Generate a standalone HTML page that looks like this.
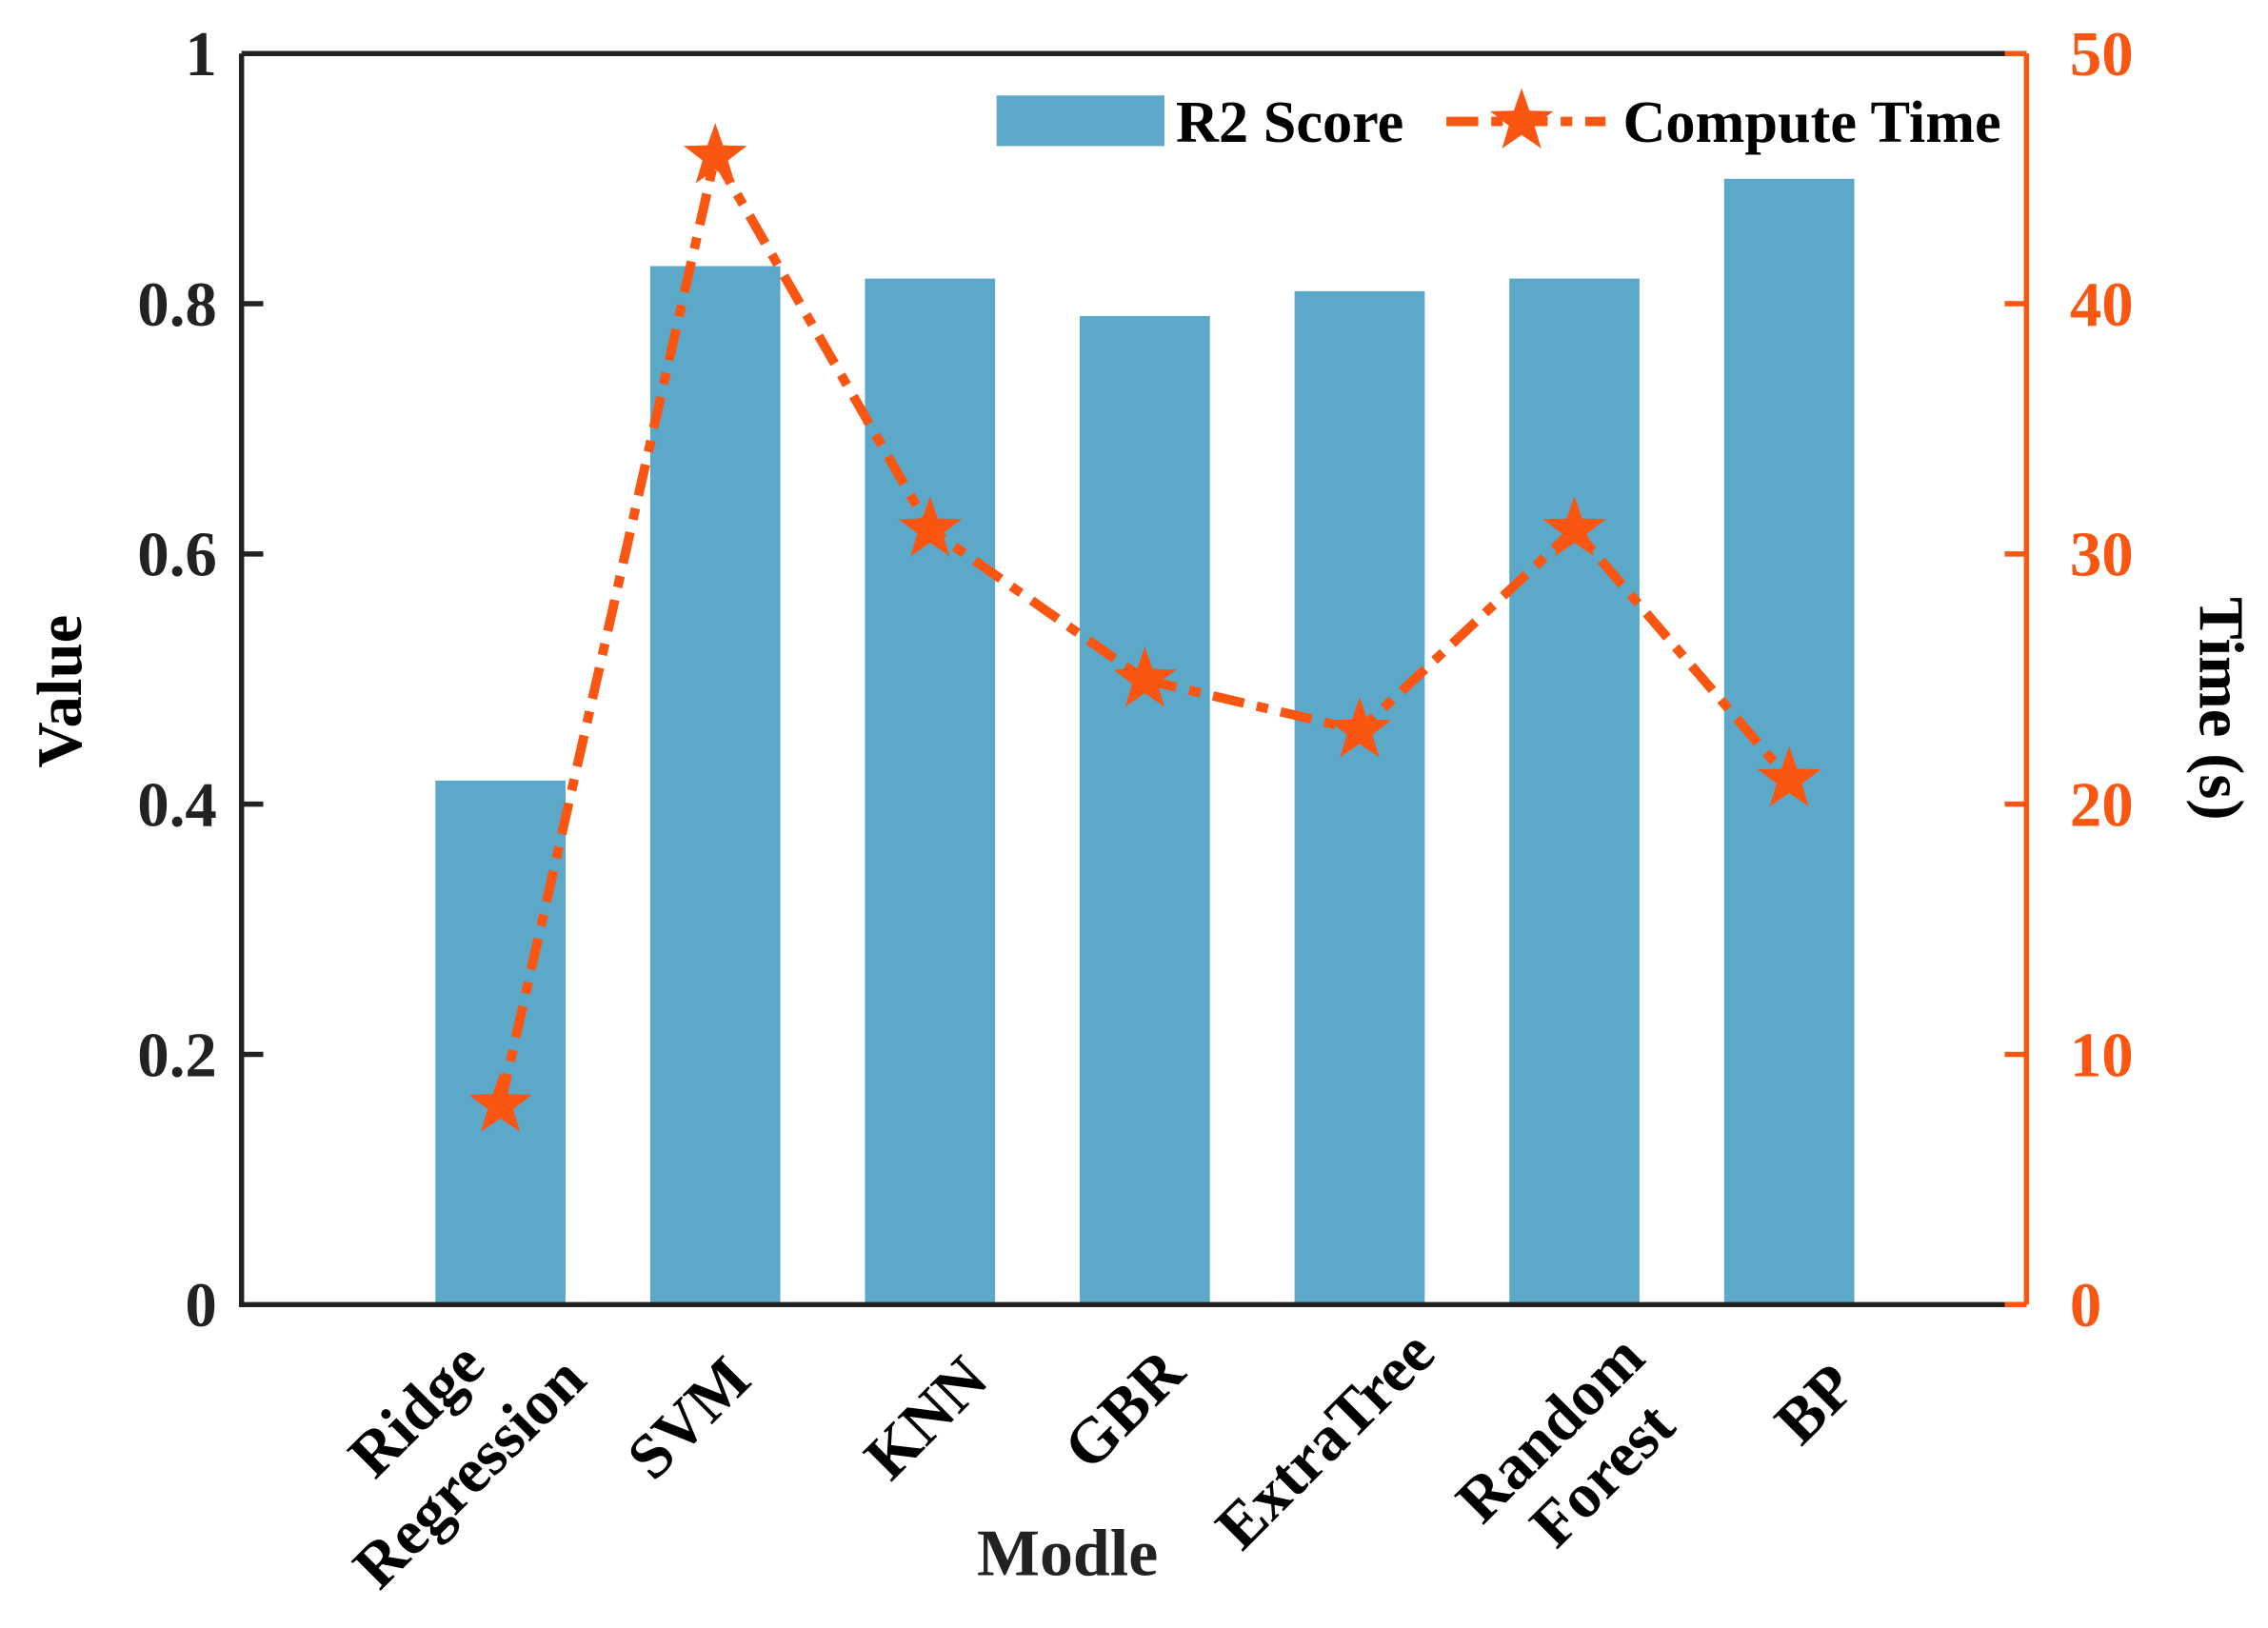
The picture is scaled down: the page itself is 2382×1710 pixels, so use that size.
<!DOCTYPE html>
<html><head><meta charset="utf-8"><style>html,body{margin:0;padding:0;background:#fff}svg{display:block}</style></head>
<body>
<svg width="2382" height="1710" viewBox="0 0 1568 1125.6" preserveAspectRatio="none" xmlns="http://www.w3.org/2000/svg" font-family="'Liberation Serif', serif" font-weight="bold">
<defs>
<path id="st" d="M0,-23 L5.4,-7.5 L21.9,-7.1 L8.8,2.9 L13.5,18.6 L0,9.3 L-13.5,18.6 L-8.8,2.9 L-21.9,-7.1 L-5.4,-7.5 Z" fill="#FA5511"/>
</defs>
<g fill="#5BA8C9">
<rect x="301" y="539.7" width="90" height="362.3"/>
<rect x="449.5" y="184" width="90" height="718"/>
<rect x="598" y="192.6" width="90" height="709.4"/>
<rect x="746.5" y="218.5" width="90" height="683.5"/>
<rect x="895" y="201.3" width="90" height="700.7"/>
<rect x="1043.5" y="192.6" width="90" height="709.4"/>
<rect x="1192" y="123.6" width="90" height="778.4"/>
</g>
<polyline points="346,764 494.5,108 643,366 791.5,470 940,505 1088.5,366 1237,539" fill="none" stroke="#FA5511" stroke-width="6.5" stroke-dasharray="22,9,8,9"/>
<g>
<use href="#st" x="346" y="764"/><use href="#st" x="494.5" y="108"/><use href="#st" x="643" y="366"/><use href="#st" x="791.5" y="470"/><use href="#st" x="940" y="505"/><use href="#st" x="1088.5" y="366"/><use href="#st" x="1237" y="539"/>
</g>
<path d="M167,37 H1401 M167,37 V902 H1401" fill="none" stroke="#222" stroke-width="3.6"/>
<path d="M1401,37 V902" stroke="#FA5511" stroke-width="3.6"/>
<g stroke="#222" stroke-width="3.6">
<path d="M167,210 h15 M167,383 h15 M167,556 h15 M167,729 h15"/>
</g>
<g stroke="#FA5511" stroke-width="3.6">
<path d="M1401,37 h-15 M1401,210 h-15 M1401,383 h-15 M1401,556 h-15 M1401,729 h-15 M1401,902 h-15"/>
</g>
<g font-size="44" fill="#222" text-anchor="end">
<text x="150" y="52">1</text><text x="150" y="225">0.8</text><text x="150" y="398">0.6</text><text x="150" y="571">0.4</text><text x="150" y="744">0.2</text><text x="150" y="917">0</text>
</g>
<g font-size="44" fill="#FA5511" text-anchor="start">
<text x="1431" y="52">50</text><text x="1431" y="225">40</text><text x="1431" y="398">30</text><text x="1431" y="571">20</text><text x="1431" y="744">10</text><text x="1431" y="917">0</text>
</g>
<text transform="translate(56,478) rotate(-90)" font-size="44" text-anchor="middle" fill="#000">Value</text>
<text transform="translate(1521,490) rotate(90)" font-size="44" text-anchor="middle" fill="#000">Time (s)</text>
<text x="738" y="1089" font-size="46" text-anchor="middle" fill="#222">Modle</text>
<g font-size="44" fill="#000" text-anchor="end">
<text transform="translate(337,946) rotate(-45)">Ridge</text>
<text transform="translate(407,956) rotate(-45)">Regression</text>
<text transform="translate(521,956) rotate(-45)">SVM</text>
<text transform="translate(685,956) rotate(-45)">KNN</text>
<text transform="translate(821,951) rotate(-45)">GBR</text>
<text transform="translate(994,938) rotate(-45)">ExtraTree</text>
<text transform="translate(1139,941) rotate(-45)">Random</text>
<text transform="translate(1160,988) rotate(-45)">Forest</text>
<text transform="translate(1285,961) rotate(-45)">BP</text>
</g>
<rect x="689" y="66" width="116" height="35" fill="#5BA8C9"/>
<text x="813" y="98" font-size="41" fill="#000">R2 Score</text>
<path d="M1000,84 H1110" stroke="#FA5511" stroke-width="6.5" stroke-dasharray="22,9,8,9"/>
<use href="#st" x="1052" y="84"/>
<text x="1122" y="98" font-size="41" fill="#000">Compute Time</text>
</svg>
</body></html>
